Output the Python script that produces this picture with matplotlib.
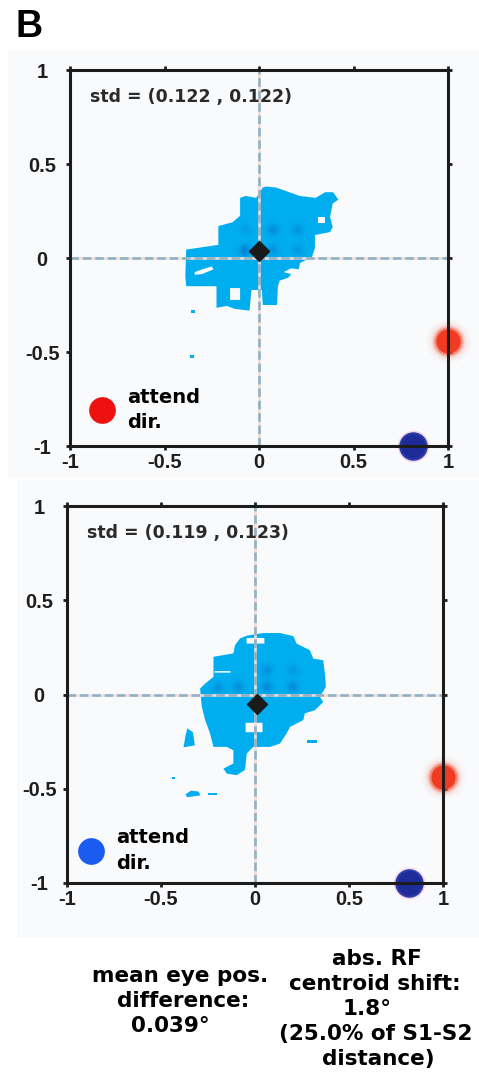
import numpy as np
import matplotlib
matplotlib.use("Agg")
import matplotlib.pyplot as plt
from matplotlib.path import Path
from matplotlib.patches import PathPatch, Rectangle

# ---- data -------------------------------------------------------------
ticks = [-1, -0.5, 0, 0.5, 1]
tick_labels = ["-1", "-0.5", "0", "0.5", "1"]

std_labels = ["std = (0.122 , 0.122)", "std = (0.119 , 0.123)"]
attend_colors = ["#ee1111", "#1a5cf0"]
attend_pos = [(-0.83, -0.81), (-0.87, -0.83)]

mean_eye = [(0.0, 0.037), (0.01, -0.05)]          # black diamond
target_red = [(1.0, -0.44), (1.0, -0.44)]         # S1 target
target_blue = [(0.815, -1.0), (0.82, -1.0)]       # S2 target

# eye-position density region (outline, holes, detached fragments)
blob_top = [(0.04, 0.38), (0.09, 0.375), (0.16, 0.35), (0.215, 0.33), (0.30, 0.32),
            (0.35, 0.35), (0.392, 0.35), (0.42, 0.31), (0.39, 0.29), (0.376, 0.218),
            (0.39, 0.165), (0.376, 0.138), (0.296, 0.122), (0.296, 0.053), (0.28, 0.005),
            (0.217, -0.027), (0.21, -0.06), (0.17, -0.055), (0.13, -0.075), (0.17, -0.085),
            (0.155, -0.105), (0.11, -0.12), (0.10, -0.15), (0.095, -0.25), (0.02, -0.25),
            (0.015, -0.17), (-0.04, -0.17), (-0.05, -0.28), (-0.13, -0.27), (-0.17, -0.255),
            (-0.225, -0.265), (-0.225, -0.15), (-0.385, -0.15), (-0.39, -0.095),
            (-0.385, 0.045), (-0.315, 0.055), (-0.215, 0.07), (-0.215, 0.17), (-0.14, 0.19),
            (-0.10, 0.225), (-0.10, 0.32), (-0.07, 0.33), (-0.015, 0.32), (0.02, 0.375)]
holes_top = [
    [(-0.153, -0.16), (-0.10, -0.16), (-0.10, -0.223), (-0.153, -0.223)],
    [(-0.34, -0.075), (-0.30, -0.06), (-0.25, -0.045), (-0.24, -0.06), (-0.30, -0.085), (-0.34, -0.09)],
    [(0.312, 0.186), (0.349, 0.186), (0.349, 0.218), (0.312, 0.218)],
]
frags_top = [
    [(-0.36, -0.275), (-0.34, -0.275), (-0.34, -0.29), (-0.36, -0.29)],
    [(-0.365, -0.515), (-0.345, -0.515), (-0.345, -0.53), (-0.365, -0.53)],
]
spots_top = [(-0.075, 0.04, 1.0), (0.075, 0.15, 0.75), (0.205, 0.15, 0.6),
             (0.075, 0.045, 0.55), (0.205, 0.045, 0.5), (-0.07, 0.15, 0.35)]

blob_bot = [(-0.044, 0.312), (0.044, 0.326), (0.133, 0.326), (0.204, 0.31), (0.221, 0.27),
            (0.292, 0.235), (0.31, 0.19), (0.363, 0.182), (0.372, 0.11), (0.377, 0.04),
            (0.345, -0.012), (0.363, -0.04), (0.319, -0.083), (0.265, -0.1), (0.257, -0.136),
            (0.186, -0.172), (0.168, -0.207), (0.133, -0.26), (0.08, -0.278), (-0.009, -0.278),
            (-0.044, -0.313), (-0.053, -0.40), (-0.097, -0.428), (-0.15, -0.42), (-0.168, -0.393),
            (-0.115, -0.366), (-0.115, -0.296), (-0.15, -0.278), (-0.221, -0.278),
            (-0.239, -0.207), (-0.265, -0.136), (-0.283, -0.065), (-0.292, 0.032),
            (-0.265, 0.058), (-0.221, 0.094), (-0.221, 0.2), (-0.115, 0.218), (-0.106, 0.262),
            (-0.08, 0.297)]
holes_bot = [
    [(-0.045, 0.27), (0.05, 0.27), (0.05, 0.300), (-0.045, 0.300)],
    [(-0.05, -0.15), (0.04, -0.15), (0.04, -0.20), (-0.05, -0.20)],
    [(-0.215, 0.116), (-0.13, 0.116), (-0.13, 0.124), (-0.215, 0.124)],
]
frags_bot = [
    [(-0.36, -0.18), (-0.33, -0.20), (-0.32, -0.27), (-0.38, -0.28), (-0.37, -0.22)],
    [(-0.37, -0.53), (-0.34, -0.51), (-0.30, -0.515), (-0.29, -0.535), (-0.36, -0.545)],
    [(-0.25, -0.52), (-0.20, -0.52), (-0.20, -0.532), (-0.25, -0.532)],
    [(0.277, -0.24), (0.33, -0.24), (0.33, -0.258), (0.277, -0.258)],
    [(-0.44, -0.44), (-0.425, -0.44), (-0.425, -0.45), (-0.44, -0.45)],
]
spots_bot = [(-0.197, 0.04, 0.6), (-0.09, 0.04, 0.7), (0.064, 0.04, 0.8),
             (0.202, 0.04, 0.75), (0.064, 0.13, 0.65), (0.202, 0.13, 0.5)]

panels = [
    dict(rect=[70 / 479, 1 - 446 / 1086, 378 / 479, 376 / 1086], blob=blob_top,
         holes=holes_top, frags=frags_top, spots=spots_top),
    dict(rect=[67 / 479, 1 - 883 / 1086, 376 / 479, 377 / 1086], blob=blob_bot,
         holes=holes_bot, frags=frags_bot, spots=spots_bot),
]

BLOB = "#00aeef"
TICKFONT = "Liberation Sans"
TEXTFONT = "DejaVu Sans"


def ring(points, ccw=True):
    p = np.asarray(points, float)
    area = 0.5 * np.sum(p[:, 0] * np.roll(p[:, 1], -1) - np.roll(p[:, 0], -1) * p[:, 1])
    if (area > 0) != ccw:
        p = p[::-1]
    return p


def region_path(outline, holes):
    verts, codes = [], []
    for k, poly in enumerate([outline] + holes):
        p = ring(poly, ccw=(k == 0))
        verts += list(p) + [p[0]]
        codes += [Path.MOVETO] + [Path.LINETO] * (len(p) - 1) + [Path.CLOSEPOLY]
    return Path(np.array(verts), codes)


fig = plt.figure(figsize=(4.79, 10.86), dpi=100)
fig.patch.set_facecolor("white")

# light panel backgrounds
fig.add_artist(Rectangle((8 / 479, 1 - 478 / 1086), 471 / 479, 428 / 1086,
                         transform=fig.transFigure, facecolor="#f9fafc",
                         edgecolor="none", zorder=0))
fig.add_artist(Rectangle((17 / 479, 1 - 937 / 1086), 462 / 479, 457 / 1086,
                         transform=fig.transFigure, facecolor="#f9fafc",
                         edgecolor="none", zorder=0))

fig.text(15 / 479, 1 - 37 / 1086, "B", fontsize=27, fontweight="bold",
         family=TICKFONT, ha="left", va="baseline")

gx = np.linspace(-1, 1, 500)
GX, GY = np.meshgrid(gx, gx)

for i, pn in enumerate(panels):
    ax = fig.add_axes(pn["rect"])
    ax.set_facecolor("none")
    ax.set_xlim(-1, 1)
    ax.set_ylim(-1, 1)

    # density region
    patch = PathPatch(region_path(pn["blob"], pn["holes"]), facecolor=BLOB,
                      edgecolor="none", zorder=1)
    ax.add_patch(patch)
    for fr in pn["frags"]:
        ax.fill(*np.asarray(fr).T, color=BLOB, lw=0, zorder=1)

    # darker density peaks inside the region
    dens = np.zeros_like(GX)
    for sx, sy, w in pn["spots"]:
        dens += w * np.exp(-((GX - sx) ** 2 + (GY - sy) ** 2) / (2 * 0.022 ** 2))
    rgba = np.zeros(GX.shape + (4,))
    rgba[..., 0], rgba[..., 1], rgba[..., 2] = 0.05, 0.30, 0.72
    rgba[..., 3] = np.clip(dens * 0.45, 0, 0.5)
    im = ax.imshow(rgba, extent=(-1, 1, -1, 1), origin="lower",
                   interpolation="bilinear", zorder=1.5, aspect="auto")
    im.set_clip_path(patch)

    # dashed cross-hair through the origin
    for func in (ax.axhline, ax.axvline):
        func(0, color="#f1dcd8", lw=1.9, zorder=2)
        func(0, color="#8fb2c6", lw=1.9, dashes=(3.2, 1.5), zorder=2.1)

    # target locations
    rx, ry = target_red[i]
    for s, a in [(1000, 0.03), (760, 0.05), (600, 0.10), (490, 0.22), (410, 0.45)]:
        ax.scatter([rx], [ry], s=s, color="#f24a30", alpha=a, lw=0,
                   clip_on=False, zorder=2.3)
    ax.scatter([rx], [ry], s=300, color="#f03a22", lw=0, clip_on=False, zorder=2.4)

    bx, by = target_blue[i]
    ax.scatter([bx], [by], s=520, color="#f2b8d0", alpha=0.5, lw=0,
               clip_on=False, zorder=2.3)
    ax.scatter([bx], [by], s=420, color="#2a3aa8", lw=0, clip_on=False, zorder=2.4)
    ax.scatter([bx], [by], s=300, color="#1e2c9a", lw=0, clip_on=False, zorder=2.45)

    # mean eye position
    mx, my = mean_eye[i]
    ax.plot([mx], [my], marker="D", ms=10.5, color="#1a1a1a", mec="#1a1a1a",
            mew=1, zorder=3)

    # attention legend
    lx, ly = attend_pos[i]
    ax.scatter([lx], [ly], s=370, color=attend_colors[i], lw=0, zorder=3)
    ax.text(lx + 0.13, ly + 0.04, "attend", fontsize=14, fontweight="bold",
            family=TEXTFONT, ha="left", va="baseline", color="black")
    ax.text(lx + 0.13, ly - 0.095, "dir.", fontsize=14, fontweight="bold",
            family=TEXTFONT, ha="left", va="baseline", color="black")

    ax.text(-0.894, 0.83, std_labels[i], fontsize=12.5, fontweight="bold",
            family=TEXTFONT, ha="left", va="baseline", color="#2a2a2a", zorder=3)

    # frame and ticks
    for sp in ax.spines.values():
        sp.set_linewidth(2.2)
        sp.set_color("#1c1c1c")
        sp.set_zorder(4)
    ax.set_xticks(ticks)
    ax.set_yticks(ticks)
    ax.set_xticklabels(tick_labels)
    ax.set_yticklabels(tick_labels)
    ax.tick_params(which="both", direction="out", length=3, width=2,
                   color="#1c1c1c", top=True, right=True,
                   labelsize=14.5, labelcolor="#1e1e1e")
    ax.tick_params(axis="x", pad=2)
    ax.tick_params(axis="y", pad=17)
    for lab in ax.get_xticklabels() + ax.get_yticklabels():
        lab.set_fontfamily(TICKFONT)
        lab.set_fontweight("bold")
    for lab in ax.get_yticklabels():
        lab.set_ha("center")

# summary statistics below the panels
left_lines = [("mean eye pos.", 180, 982), ("difference:", 183, 1007), ("0.039°", 170, 1032)]
right_lines = [("abs. RF", 377, 965), ("centroid shift:", 375, 990), ("1.8°", 367, 1015),
               ("(25.0% of S1-S2", 376, 1040), ("distance)", 378, 1065)]
for txt, x, y in left_lines + right_lines:
    fig.text(x / 479, 1 - y / 1086, txt, fontsize=15.5, fontweight="bold",
             family=TEXTFONT, ha="center", va="baseline", color="black")

fig.savefig("out.png", dpi=100)
